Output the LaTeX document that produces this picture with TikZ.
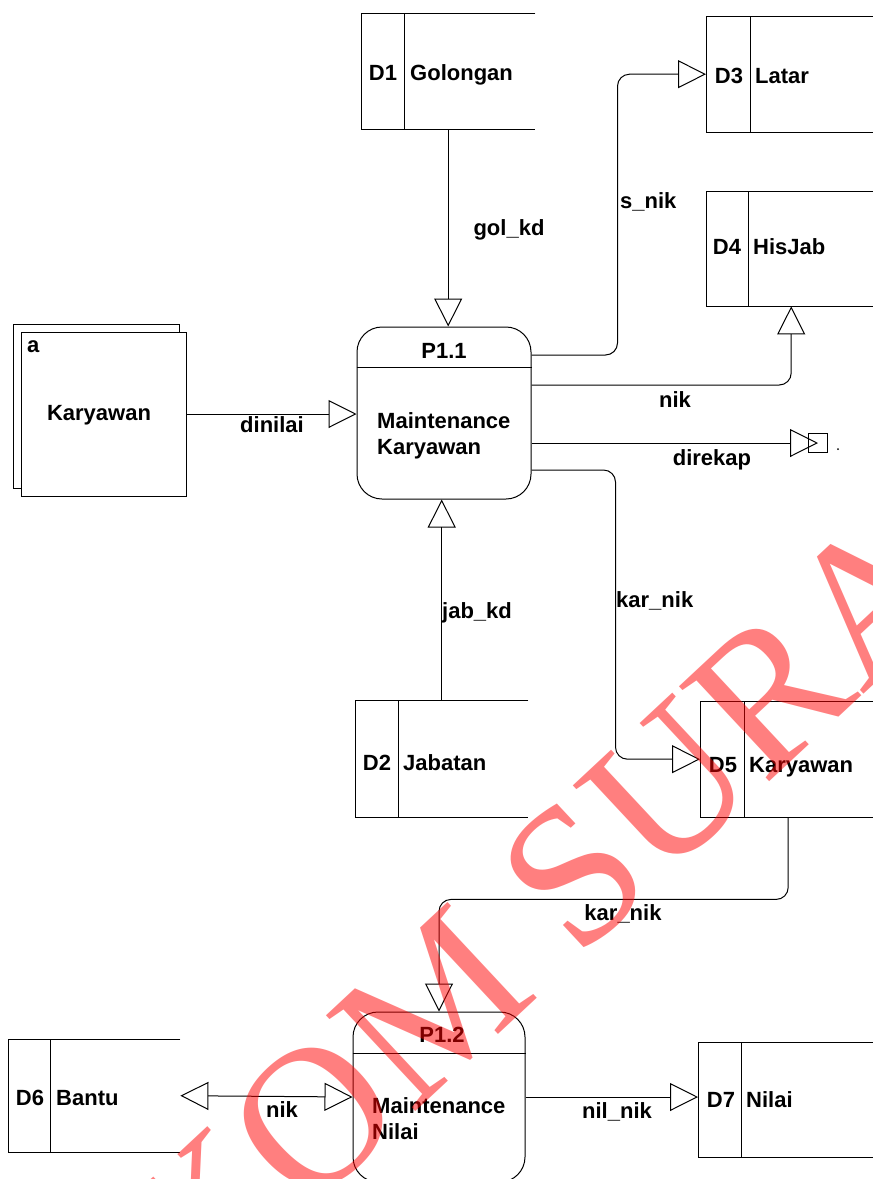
\documentclass[tikz,border=0pt]{standalone}
\usepackage{fontspec}
\setmainfont{Liberation Sans}
\newfontfamily\markfont{Liberation Serif}
\usetikzlibrary{arrows.meta}

\tikzset{
  line/.style={draw, line width=1pt},
  flow/.style={line, rounded corners=12pt, -{Triangle[open,length=28pt,width=28pt]}},
  proc/.style={line, rounded corners=25pt, minimum width=#1, minimum height=172pt, inner sep=0pt},
  storebox/.style={inner sep=0pt, anchor=north west},
  lbl/.style={font=\fontsize{22}{26}\selectfont\bfseries, inner sep=0pt},
  wmark/.style={font=\markfont\fontsize{200}{200}\selectfont, text=red, text opacity=0.5, inner sep=0pt},
}

\begin{document}
\begin{tikzpicture}[x=1pt, y=-1pt]
  \useasboundingbox (0,0) rectangle (873,1179);
  \clip (0,0) rectangle (873,1179);

  \node[proc=174pt] (p11) at (444,413) {};
  \draw[line] ([yshift=-41pt]p11.north west) -- ([yshift=-41pt]p11.north east);
  \node[lbl, anchor=base] at (444,358) {P1.1};
  \node[lbl, anchor=base west] at (377,428) {Maintenance};
  \node[lbl, anchor=base west] at (377,454) {Karyawan};

  \node[proc=172pt, minimum height=170pt] (p12) at (439,1097) {};
  \draw[line] ([yshift=-42pt]p12.north west) -- ([yshift=-42pt]p12.north east);
  \node[lbl, anchor=base] at (442,1042) {P1.2};
  \node[lbl, anchor=base west] at (372,1113) {Maintenance};
  \node[lbl, anchor=base west] at (372,1139) {Nilai};

  \node[line, minimum width=166pt, minimum height=164pt] (entb) at (96,406) {};
  \node[line, fill=white, minimum width=165pt, minimum height=164pt] (ent) at (103.5,414) {};
  \node[lbl, anchor=base west] at (27,352) {a};
  \node[lbl, anchor=base] at (99,420) {Karyawan};

  \node[storebox, minimum width=174pt, minimum height=116pt] (d1) at (361,13) {};
  \draw[line] (d1.north east) -- (d1.north west) -- (d1.south west) -- (d1.south east);
  \draw[line] ([xshift=43pt]d1.north west) -- ([xshift=43pt]d1.south west);
  \node[lbl, anchor=base] at (383,80) {D1};
  \node[lbl, anchor=base west] at (410,80) {Golongan};

  \node[storebox, minimum width=170pt, minimum height=116pt] (d3) at (706,16) {};
  \draw[line] (d3.north east) -- (d3.north west) -- (d3.south west) -- (d3.south east);
  \draw[line] ([xshift=44pt]d3.north west) -- ([xshift=44pt]d3.south west);
  \node[lbl, anchor=base] at (729,83) {D3};
  \node[lbl, anchor=base west] at (755,83) {Latar};

  \node[storebox, minimum width=170pt, minimum height=115pt] (d4) at (706,191) {};
  \draw[line] (d4.north east) -- (d4.north west) -- (d4.south west) -- (d4.south east);
  \draw[line] ([xshift=42pt]d4.north west) -- ([xshift=42pt]d4.south west);
  \node[lbl, anchor=base] at (727,254) {D4};
  \node[lbl, anchor=base west] at (753,254) {HisJab};

  \node[storebox, minimum width=173pt, minimum height=117pt] (d2) at (355,700) {};
  \draw[line] (d2.north east) -- (d2.north west) -- (d2.south west) -- (d2.south east);
  \draw[line] ([xshift=43pt]d2.north west) -- ([xshift=43pt]d2.south west);
  \node[lbl, anchor=base] at (377,770) {D2};
  \node[lbl, anchor=base west] at (403,770) {Jabatan};

  \node[storebox, minimum width=176pt, minimum height=116pt] (d5) at (700,701) {};
  \draw[line] (d5.north east) -- (d5.north west) -- (d5.south west) -- (d5.south east);
  \draw[line] ([xshift=44pt]d5.north west) -- ([xshift=44pt]d5.south west);
  \node[lbl, anchor=base] at (723,772) {D5};
  \node[lbl, anchor=base west] at (749,772) {Karyawan};

  \node[storebox, minimum width=172pt, minimum height=113pt] (d6) at (8,1039) {};
  \draw[line] (d6.north east) -- (d6.north west) -- (d6.south west) -- (d6.south east);
  \draw[line] ([xshift=42pt]d6.north west) -- ([xshift=42pt]d6.south west);
  \node[lbl, anchor=base] at (30,1105) {D6};
  \node[lbl, anchor=base west] at (56,1105) {Bantu};

  \node[storebox, minimum width=178pt, minimum height=115pt] (d7) at (698,1042) {};
  \draw[line] (d7.north east) -- (d7.north west) -- (d7.south west) -- (d7.south east);
  \draw[line] ([xshift=43pt]d7.north west) -- ([xshift=43pt]d7.south west);
  \node[lbl, anchor=base] at (721,1107) {D7};
  \node[lbl, anchor=base west] at (746,1107) {Nilai};

  \node[line, minimum size=19pt, inner sep=0pt] (stub) at (818,443) {};
  \fill (838,449) circle (1pt);

  \draw[flow] (d1.south) -- (d1.south |- p11.north);
  \node[lbl, anchor=base] at (509,235) {gol\_kd};
  \draw[flow] (ent.east) -- (ent.east -| p11.west);
  \node[lbl, anchor=base] at (272,432) {dinilai};
  \draw[flow] (d2.north) -- (d2.north |- p11.south);
  \node[lbl, anchor=base] at (477,618) {jab\_kd};
  \draw[flow] ([yshift=58pt]p11.east) -- ++(86,0) |- (d3.west);
  \node[lbl, anchor=base west] at (620,208) {s\_nik};
  \draw[flow] ([yshift=28pt]p11.east) -| (d4.south);
  \node[lbl, anchor=base] at (675,407) {nik};
  \draw[flow] ([yshift=-30pt]p11.east) -- (stub.center);
  \node[lbl, anchor=base] at (712,465) {direkap};
  \draw[flow] ([yshift=-57pt]p11.east) -- ++(84,0) |- (d5.west);
  \node[lbl, anchor=base west] at (616,607) {kar\_nik};
  \draw[flow] (d5.south) -- ++(0,82) -| (p12.north);
  \node[lbl, anchor=base] at (623,920) {kar\_nik};
  \draw[flow, {Triangle[open,length=28pt,width=28pt]}-{Triangle[open,length=28pt,width=28pt]}] (d6.east) -- (p12.west);
  \node[lbl, anchor=base] at (282,1117) {nik};
  \draw[flow] (p12.east) -- (p12.east -| d7.west);
  \node[lbl, anchor=base] at (617,1118) {nil\_nik};

  \node[wmark, rotate=43, anchor=base west] (wm) at (200,1313) {KOM SURA};
\end{tikzpicture}
\end{document}
